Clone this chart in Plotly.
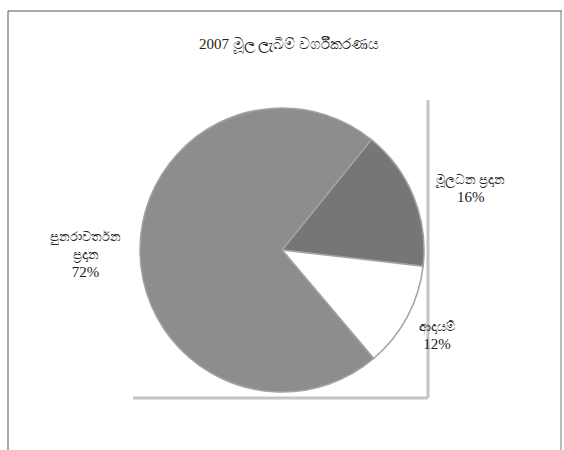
import plotly.graph_objects as go

title_text = "2007 මූල ලැබීම් වර්ගීකරණය"
categories = ["මූලධන ප්‍රදාන", "ආදායම්", "පුනරාවර්තන ප්‍රදාන"]
label_lines = [["මූලධන ප්‍රදාන"], ["ආදායම්"], ["පුනරාවර්තන", "ප්‍රදාන"]]
values = [16, 12, 72]
colors = ["#767676", "#ffffff", "#8d8d8d"]

W, H = 564, 450

fig = go.Figure()
fig.add_trace(go.Pie(
    labels=categories,
    values=values,
    sort=False,
    direction="clockwise",
    rotation=39,
    marker=dict(colors=colors, line=dict(color="#a3a3a3", width=1.5)),
    textinfo="none",
    hoverinfo="label+percent",
    showlegend=False,
    domain=dict(x=[140 / W, 424 / W], y=[1 - 392 / H, 1 - 108 / H]),
))

# label positions (px) for annotations
label_pos = [(470, 188), (437, 335), (85, 254)]
font = dict(family="Liberation Serif, Times New Roman, serif", size=14, color="#222222")
for lines, v, (px, py) in zip(label_lines, values, label_pos):
    parts = [f"<span style='font-size:13px'>{l}</span>" for l in lines]
    parts.append(f"<span style='font-size:15px'>{v}%</span>")
    txt = "<br>".join(parts)
    fig.add_annotation(x=px / W, y=1 - py / H, xref="paper", yref="paper",
                       text=txt, showarrow=False, font=font, align="center",
                       xanchor="center", yanchor="middle")

shapes = [
    # outer frame: top, left, right
    dict(type="line", xref="paper", yref="paper", x0=8 / W, x1=562 / W, y0=1 - 11 / H, y1=1 - 11 / H,
         line=dict(color="#555555", width=1)),
    dict(type="line", xref="paper", yref="paper", x0=8 / W, x1=8 / W, y0=1 - 11 / H, y1=0,
         line=dict(color="#555555", width=1)),
    dict(type="line", xref="paper", yref="paper", x0=561 / W, x1=561 / W, y0=1 - 11 / H, y1=0,
         line=dict(color="#777777", width=1)),
    # plot area shadow edges
    dict(type="line", xref="paper", yref="paper", x0=428 / W, x1=428 / W, y0=1 - 100 / H, y1=1 - 398 / H,
         line=dict(color="#c4c4c4", width=3)),
    dict(type="line", xref="paper", yref="paper", x0=133 / W, x1=428 / W, y0=1 - 398 / H, y1=1 - 398 / H,
         line=dict(color="#c4c4c4", width=3)),
]

fig.update_layout(
    width=W, height=H,
    margin=dict(l=0, r=0, t=0, b=0),
    paper_bgcolor="white",
    plot_bgcolor="white",
    shapes=shapes,
    title=dict(text=title_text, x=289 / W, xanchor="center", y=1 - 44 / H, yanchor="middle",
               font=dict(family="Liberation Serif, Times New Roman, serif", size=15, color="#222222")),
)

fig.write_html("out.html", config={"displayModeBar": False},
               post_script="document.body.style.margin='0';")
